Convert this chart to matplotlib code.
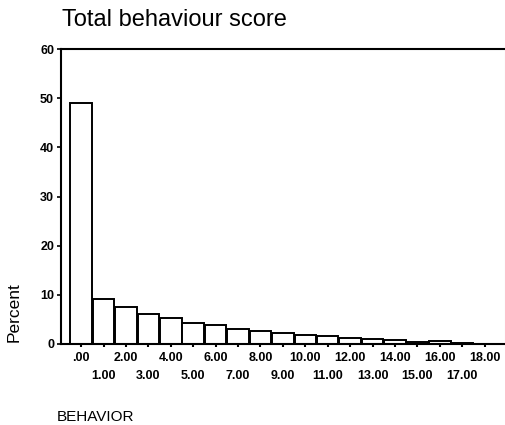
import matplotlib
matplotlib.use("Agg")
import matplotlib.pyplot as plt

plt.rcParams['font.family'] = ['Liberation Sans', 'DejaVu Sans']

scores = list(range(19))
tick_labels = ['.00', '1.00', '2.00', '3.00', '4.00', '5.00', '6.00', '7.00', '8.00', '9.00',
               '10.00', '11.00', '12.00', '13.00', '14.00', '15.00', '16.00', '17.00', '18.00']
percent = [49.0, 9.2, 7.6, 6.1, 5.2, 4.3, 3.9, 3.0, 2.7, 2.3, 1.8, 1.6, 1.15, 1.1, 0.8, 0.5, 0.6, 0.2, 0.1]

fig = plt.figure(figsize=(5.06, 4.25), dpi=100)
ax = fig.add_axes([0.1206, 0.1906, 0.877, 0.694])

ax.bar(scores, percent, width=0.96, color='white', edgecolor='black', linewidth=1.4)

ax.set_xlim(-0.9, 18.9)
ax.set_ylim(0, 60)
ax.set_yticks([0, 10, 20, 30, 40, 50, 60])

even = [s for s in scores if s % 2 == 0]
odd = [s for s in scores if s % 2 == 1]
ax.set_xticks(even)
ax.set_xticklabels([tick_labels[s] for s in even], fontsize=9, fontweight='bold')
ax.set_xticks(odd, minor=True)
ax.set_xticklabels([tick_labels[s] for s in odd], minor=True, fontsize=9, fontweight='bold')

for t in ax.get_yticklabels():
    t.set_fontsize(9)
    t.set_fontweight('bold')

ax.tick_params(axis='y', direction='out', length=3, width=1.2, pad=2)
ax.tick_params(axis='x', which='major', direction='out', length=2, width=1.5, pad=4)
ax.tick_params(axis='x', which='minor', direction='out', length=2, width=1.5, pad=17)

for s in ['left', 'top', 'bottom']:
    ax.spines[s].set_linewidth(1.5)
    ax.spines[s].set_color('black')
ax.spines['right'].set_color('#dddddd')
ax.spines['right'].set_linewidth(0.8)

fig.text(0.1225, 1 - 20/425, 'Total behaviour score', fontsize=17, ha='left', va='center')
fig.text(14/506, 1 - 312/425, 'Percent', fontsize=12.5, rotation=90, ha='center', va='center')
fig.text(57/506, 1 - 417/425, 'BEHAVIOR', fontsize=11, ha='left', va='center')

fig.savefig('out.png', dpi=100)
